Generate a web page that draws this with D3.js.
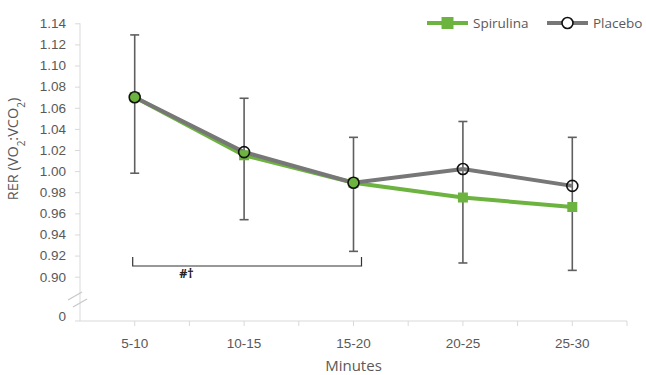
<!DOCTYPE html>
<html>
<head>
<meta charset="utf-8">
<script src="https://cdn.jsdelivr.net/npm/d3@7"></script>
<style>
  body { margin: 0; background: #fff; }
  svg { font-family: "Open Sans", sans-serif; }
  .axis text { fill: #595959; font-size: 13.5px; }
  .axis line, .axis path { stroke: #d9d9d9; }
</style>
</head>
<body>
<svg id="chart" width="646" height="375"></svg>
<script>
// data
var categories = ['5-10', '10-15', '15-20', '20-25', '25-30'];
var spirulina = [1.070, 1.015, 0.989, 0.975, 0.966];
var placebo = [1.070, 1.018, 0.989, 1.002, 0.986];
var errHigh = [1.129, 1.069, 1.032, 1.047, 1.032];
var errLow = [0.998, 0.954, 0.924, 0.913, 0.906];
var yTicks = [0.90, 0.92, 0.94, 0.96, 0.98, 1.00, 1.02, 1.04, 1.06, 1.08, 1.10, 1.12, 1.14];
var bracketFrom = '5-10', bracketTo = '15-20', bracketLabel = '#\u2020';

var green = '#6db33f';
var grey = '#777777';
var errColor = '#5f5f5f';

var svg = d3.select('#chart');
var left = 80, right = 627, zeroY = 321;

var x = d3.scaleBand().domain(categories).range([left, right]);
var y = d3.scaleLinear().domain([0.90, 1.14]).range([276.7, 23.3]);
var cx = function (c) { return x(c) + x.bandwidth() / 2; };

// y axis (broken, with 0 at the bottom)
var yAxis = svg.append('g')
  .attr('class', 'axis y')
  .attr('transform', 'translate(' + left + ',0)')
  .call(d3.axisLeft(y).tickValues(yTicks).tickFormat(d3.format('.2f')).tickSize(5).tickPadding(9));
yAxis.select('.domain').remove();
yAxis.selectAll('text').style('font-size', '13.5px');

yAxis.append('line')
  .attr('x1', 0).attr('x2', 0)
  .attr('y1', y(1.14)).attr('y2', zeroY);
yAxis.append('line')
  .attr('x1', -5).attr('x2', 0)
  .attr('y1', zeroY).attr('y2', zeroY);
yAxis.append('text')
  .attr('x', -14).attr('y', zeroY - 4)
  .attr('dy', '0.32em')
  .attr('text-anchor', 'end')
  .text('0');

// break marks
[[0, 0], [5, 7]].forEach(function (o) {
  svg.append('line')
    .attr('x1', left - 12 + o[0]).attr('y1', 300 + o[1])
    .attr('x2', left + 2 + o[0]).attr('y2', 292 + o[1])
    .attr('stroke', '#c8c8c8')
    .attr('stroke-width', 1.2);
});

// x axis
var xAxis = svg.append('g')
  .attr('class', 'axis x')
  .attr('transform', 'translate(0,' + zeroY + ')')
  .call(d3.axisBottom(x).tickSize(5).tickPadding(12).tickSizeOuter(0));
xAxis.select('.domain').attr('d', 'M' + left + ',0H' + right);
xAxis.selectAll('.between')
  .data(categories)
  .enter()
  .append('line')
  .attr('class', 'between')
  .attr('x1', function (d) { return x(d) + x.bandwidth(); })
  .attr('x2', function (d) { return x(d) + x.bandwidth(); })
  .attr('y1', 0).attr('y2', 5);

// axis titles
svg.append('text')
  .attr('x', (left + right) / 2).attr('y', 371)
  .attr('text-anchor', 'middle')
  .attr('fill', '#595959')
  .style('font-size', '15px')
  .text('Minutes');

var yTitle = svg.append('text')
  .attr('transform', 'translate(18,149) rotate(-90)')
  .attr('text-anchor', 'middle')
  .attr('fill', '#595959')
  .style('font-size', '14.5px');
yTitle.append('tspan').text('RER (VO');
yTitle.append('tspan').attr('baseline-shift', 'sub').style('font-size', '10px').text('2');
yTitle.append('tspan').text(':VCO');
yTitle.append('tspan').attr('baseline-shift', 'sub').style('font-size', '10px').text('2');
yTitle.append('tspan').text(')');

// error bars
var err = svg.append('g').attr('class', 'errors')
  .selectAll('g')
  .data(categories)
  .enter()
  .append('g')
  .attr('stroke', errColor)
  .attr('stroke-width', 1.6);
err.append('line')
  .attr('x1', cx).attr('x2', cx)
  .attr('y1', function (d, i) { return y(errHigh[i]); })
  .attr('y2', function (d, i) { return y(errLow[i]); });
[errHigh, errLow].forEach(function (arr) {
  err.append('line')
    .attr('x1', function (d) { return cx(d) - 4.5; })
    .attr('x2', function (d) { return cx(d) + 4.5; })
    .attr('y1', function (d, i) { return y(arr[i]); })
    .attr('y2', function (d, i) { return y(arr[i]); });
});

// lines
var line = d3.line()
  .x(function (d, i) { return cx(categories[i]); })
  .y(function (d) { return y(d); });

svg.append('path')
  .datum(spirulina)
  .attr('d', line)
  .attr('fill', 'none')
  .attr('stroke', green)
  .attr('stroke-width', 4);

svg.append('path')
  .datum(placebo)
  .attr('d', line)
  .attr('fill', 'none')
  .attr('stroke', grey)
  .attr('stroke-width', 4);

// markers
svg.append('g').selectAll('rect')
  .data(spirulina)
  .enter()
  .append('rect')
  .attr('x', function (d, i) { return cx(categories[i]) - 5; })
  .attr('y', function (d) { return y(d) - 5; })
  .attr('width', 10).attr('height', 10)
  .attr('fill', green);

svg.append('g').selectAll('circle')
  .data(placebo)
  .enter()
  .append('circle')
  .attr('cx', function (d, i) { return cx(categories[i]); })
  .attr('cy', function (d) { return y(d); })
  .attr('r', 5.5)
  .attr('fill', 'none')
  .attr('stroke', '#111')
  .attr('stroke-width', 1.6);

// significance bracket
var bx1 = cx(bracketFrom) - 2, bx2 = cx(bracketTo) + 8, by = 266;
svg.append('path')
  .attr('d', 'M' + bx1 + ',' + (by - 9) + 'V' + by + 'H' + bx2 + 'V' + (by - 9))
  .attr('fill', 'none')
  .attr('stroke', '#333')
  .attr('stroke-width', 1.2);
svg.append('text')
  .attr('x', (cx(categories[0]) + cx(categories[1])) / 2 - 3)
  .attr('y', by + 12)
  .attr('text-anchor', 'middle')
  .attr('fill', '#222')
  .style('font-size', '12.5px')
  .style('font-weight', 'bold')
  .text(bracketLabel);

// legend
var legendItems = [
  { name: 'Spirulina', color: green, marker: 'square', x: 427 },
  { name: 'Placebo', color: grey, marker: 'circle', x: 547 }
];
var legend = svg.append('g').attr('class', 'legend');
legendItems.forEach(function (it) {
  var g = legend.append('g').attr('transform', 'translate(' + it.x + ',23)');
  g.append('line')
    .attr('x1', 0).attr('x2', 41)
    .attr('stroke', it.color)
    .attr('stroke-width', 4);
  if (it.marker === 'square') {
    g.append('rect')
      .attr('x', 14.5).attr('y', -6)
      .attr('width', 12).attr('height', 12)
      .attr('fill', it.color);
  } else {
    g.append('circle')
      .attr('cx', 20.5).attr('cy', 0).attr('r', 5.5)
      .attr('fill', '#fff')
      .attr('stroke', '#111')
      .attr('stroke-width', 1.6);
  }
  g.append('text')
    .attr('x', 46).attr('y', 0)
    .attr('dy', '0.35em')
    .attr('fill', '#595959')
    .style('font-size', '13.5px')
    .text(it.name);
});
</script>
</body>
</html>
